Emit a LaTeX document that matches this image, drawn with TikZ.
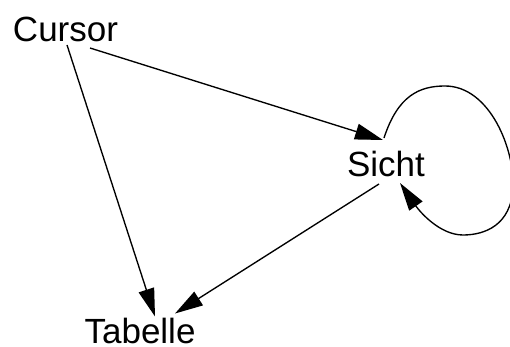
\documentclass[tikz,border=0pt]{standalone}
\usepackage{fontspec}
\setmainfont{Liberation Sans}
\usetikzlibrary{arrows.meta}
\begin{document}
\begin{tikzpicture}[x=1pt,y=-1pt,
  lbl/.style={anchor=base,inner sep=0pt,font=\fontsize{35}{42}\selectfont},
  edge/.style={line width=1.35pt,-{Triangle[length=28pt,width=16pt]}}]
\useasboundingbox (0,0) rectangle (510,347);

% labels
\node[lbl] (cursor) at (65.5,41.5) {Cursor};
\node[lbl] (sicht)  at (386,176)   {Sicht};
\node[lbl] (tabelle) at (140,343.5) {Tabelle};

% connectors
\draw[edge] ([shift={(24.5,6.5)}]cursor.base) -- ([shift={(-3,-36)}]sicht.base);
\draw[edge] ([shift={(1.5,3.5)}]cursor.base) -- ([shift={(15,-27)}]tabelle.base);
\draw[edge] ([shift={(-7,8)}]sicht.base) -- ([shift={(35,-30)}]tabelle.base);

% self loop on Sicht
\draw[edge] ([shift={(-2,-38)}]sicht.base)
  .. controls (398,95) and (420,86) .. (445,86)
  .. controls (490,86) and (515,150) .. (513,188)
  .. controls (511,225) and (485,235) .. (463,235)
  .. controls (440,235) and (420,212) .. ([shift={(14,7)}]sicht.base);
\end{tikzpicture}
\end{document}
